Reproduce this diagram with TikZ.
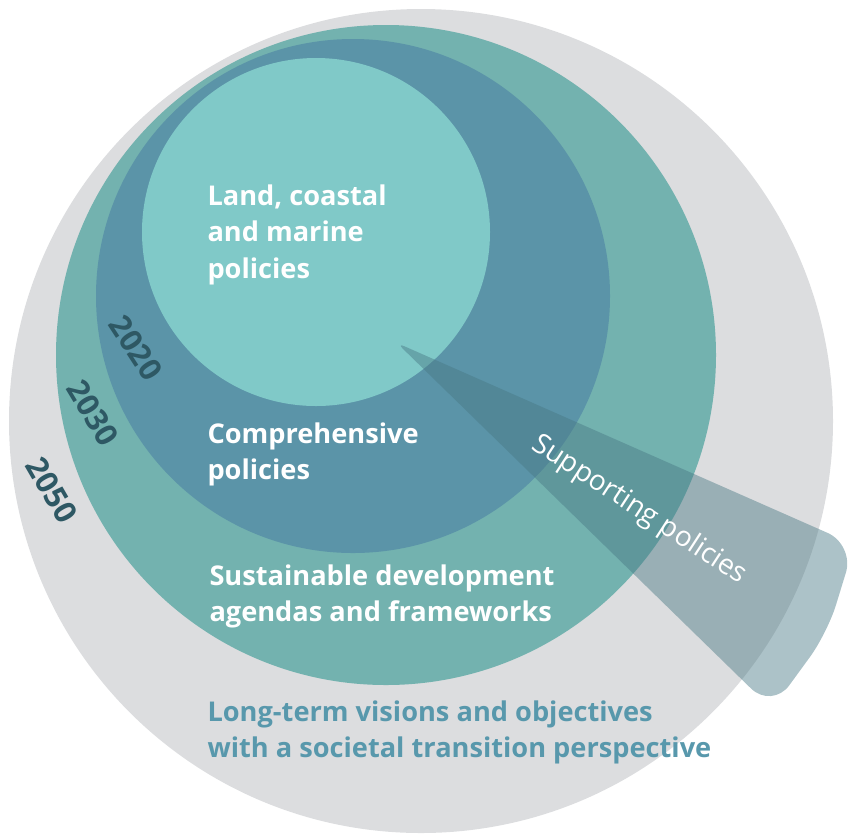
\documentclass[tikz,border=0pt]{standalone}
\usepackage{fontspec}
\setmainfont{Open Sans}

\definecolor{ring2050}{RGB}{220,221,223}
\definecolor{ring2030}{RGB}{115,178,175}
\definecolor{ring2020}{RGB}{91,148,168}
\definecolor{ringcore}{RGB}{128,201,200}
\definecolor{yeardark}{RGB}{46,88,100}
\definecolor{visionblue}{RGB}{88,152,172}
\definecolor{wedgeblue}{RGB}{72,120,132}

\tikzset{every picture/.style={line width=0.75pt}}
\tikzset{
  circletext/.style={anchor=north west, inner sep=0.75pt, align=left, text=white,
    font=\bfseries\fontsize{20.4}{27.5}\selectfont},
  yeartext/.style={inner sep=0.75pt, text=yeardark, font=\bfseries\fontsize{23}{24}\selectfont},
}

\begin{document}
\begin{tikzpicture}[x=0.75pt,y=0.75pt,yscale=-1,xscale=1]
	\useasboundingbox (0,0) rectangle (852,833);
	
	%Shape: Circle [2050]
	\fill [ring2050] (421,421) circle (412);
	%Shape: Circle [2030]
	\fill [ring2030] (386,355) circle (330);
	%Shape: Circle [2020]
	\fill [ring2020] (353,296) circle (257);
	%Shape: Circle [core]
	\fill [ringcore] (316,232) circle (174);
	
	%Shape: Wedge [supporting]
	\coordinate (tip) at (397,343);
	\fill [wedgeblue, fill opacity=0.45] [rounded corners=22pt] ([shift={(34:519)}]tip) -- ([shift={(44.3:524)}]tip) [rounded corners=6pt] -- (tip) [rounded corners=22pt] -- ([shift={(23.8:500)}]tip) -- cycle ;
	
	% Text Node
	\node [circletext] (landtxt) at (206,183) {Land, coastal\\and marine\\policies};
	% Text Node
	\node [circletext] (comptxt) at (206,421) {Comprehensive\\policies};
	% Text Node
	\node [circletext] (sustxt) at (208,563) {Sustainable development\\agendas and frameworks};
	% Text Node
	\node [circletext, text=visionblue] (visiontxt) at (206,699) {Long-term visions and objectives\\with a societal transition perspective};
	% Text Node
	\node [inner sep=0.75pt, text=white, font=\fontsize{21}{24}\selectfont, rotate=-33] (supptxt) at (639,510) {Supporting policies};
	
	% Text Node
	\node [yeartext, rotate=-57] (y2020) at (136,348) {2020};
	% Text Node
	\node [yeartext, rotate=-59] (y2030) at (93,413) {2030};
	% Text Node
	\node [yeartext, rotate=-60] (y2050) at (52,490) {2050};
	
\end{tikzpicture}
\end{document}
